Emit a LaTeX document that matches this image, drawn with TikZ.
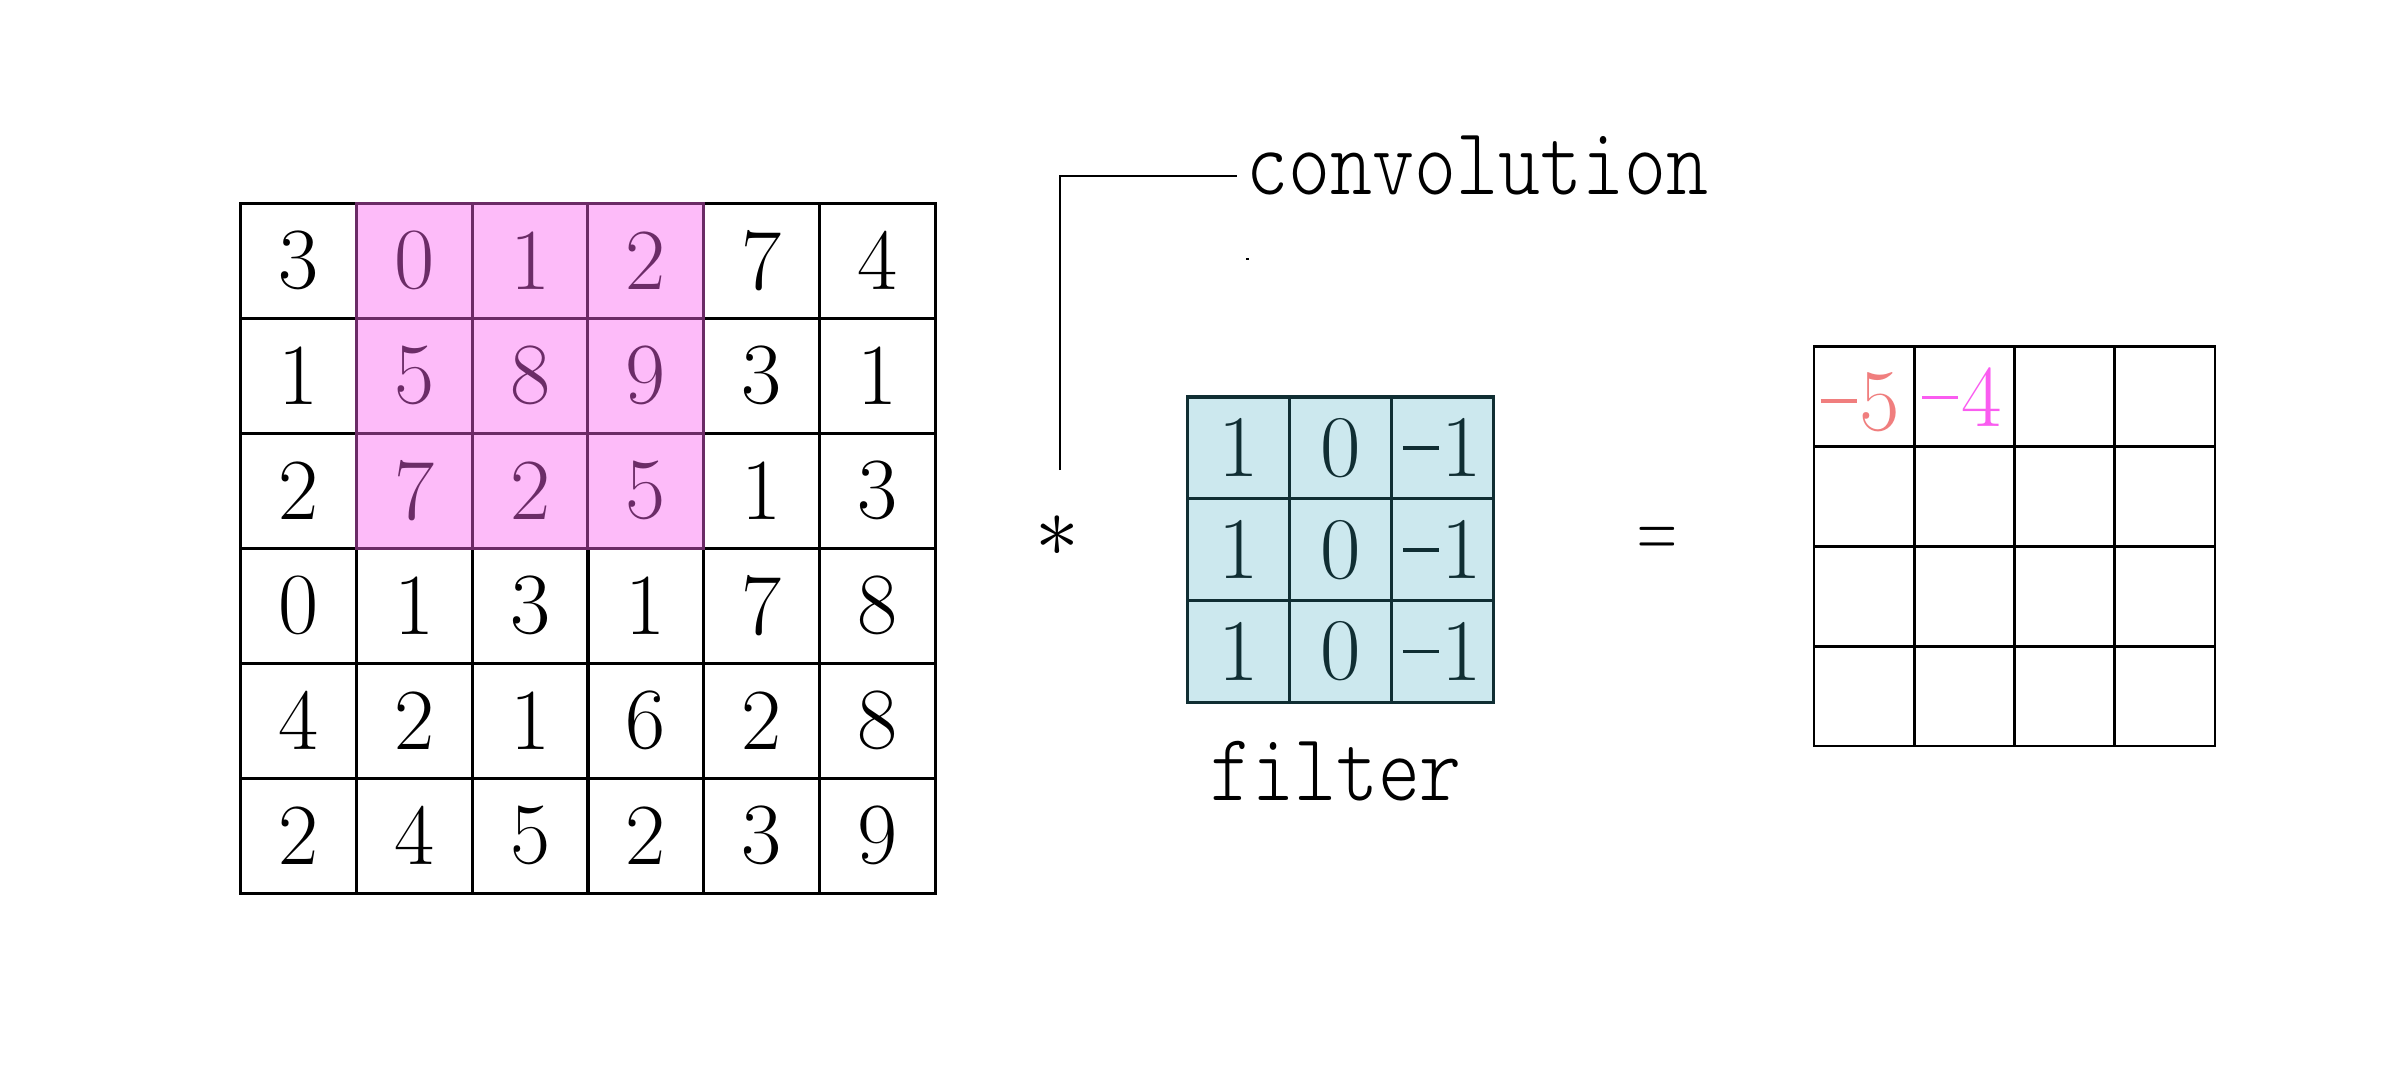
\documentclass[tikz,border=0pt]{standalone}
\usepackage{graphicx}
\usepackage{fontspec}
\newfontfamily\monolight{lmmonolt10-regular.otf}
\definecolor{pinkfill}{HTML}{FDBBF9}
\definecolor{purpleline}{HTML}{6B2B66}
\definecolor{purpletext}{HTML}{6B2C67}
\definecolor{filterfill}{HTML}{CCE8EE}
\definecolor{filterline}{HTML}{102E33}
\definecolor{salmon}{HTML}{F07E7E}
\definecolor{violetnum}{HTML}{FA5CF0}
\newcommand\mn{\rule[0.31em]{0.41em}{0.038em}\hspace{0.03em}}
\tikzset{
  numfont/.style={font=\fontsize{24.8}{28}\selectfont},
  incell/.style={draw=black, line width=0.85pt, minimum width=1.1567cm, minimum height=1.15cm, inner sep=0pt, numfont},
  hicell/.style={incell, fill=pinkfill, draw=purpleline, text=purpletext},
  fcell/.style={draw=filterline, fill=filterfill, line width=0.9pt, minimum width=1.019cm, minimum height=1.018cm, inner sep=0pt, font=\fontsize{25}{28}\selectfont, text=filterline},
  ocell/.style={draw=black, line width=0.77pt, minimum width=1.0025cm, minimum height=0.998cm, inner sep=0pt},
  monolabel/.style={inner sep=0pt, font=\monolight\fontsize{27.3}{30}\selectfont},
  resnum/.style={inner sep=0pt, anchor=base west, font=\fontsize{25}{28}\selectfont},
  connector/.style={line width=0.77pt}
}
\begin{document}
\begin{tikzpicture}[x=0.01cm,y=-0.01cm]
\useasboundingbox[fill=white] (0,0) rectangle (2401,1090);
% input grid: pass 1 plain cells
\foreach \row [count=\i from 0] in {{3,0,1,2,7,4},{1,5,8,9,3,1},{2,7,2,5,1,3},{0,1,3,1,7,8},{4,2,1,6,2,8},{2,4,5,2,3,9}}{
  \foreach \v [count=\j from 0] in \row {
    \pgfmathtruncatemacro\hl{(\i<3)&&(\j>0)&&(\j<4)}
    \ifnum\hl=0
      \node[incell] (in-\i-\j) at ({241+115.67*(\j+0.5)},{203.3+115*(\i+0.5)}) {\v};
    \fi
  }
}
% input grid: pass 2 highlighted cells
\foreach \row [count=\i from 0] in {{3,0,1,2,7,4},{1,5,8,9,3,1},{2,7,2,5,1,3}}{
  \foreach \v [count=\j from 0] in \row {
    \pgfmathtruncatemacro\hl{(\j>0)&&(\j<4)}
    \ifnum\hl=1
      \node[hicell] (in-\i-\j) at ({241+115.67*(\j+0.5)},{203.3+115*(\i+0.5)}) {\v};
    \fi
  }
}
% filter
\foreach \i in {0,1,2}{
  \foreach \v [count=\j from 0] in {1,0,\mn1}{
    \node[fcell] (f-\i-\j) at ({1187.7+101.9*(\j+0.5)},{397+101.8*(\i+0.5)}) {\v};
  }
}
\node[monolabel, anchor=base] (filterlabel) at (1336,800) {\scalebox{0.833}[1]{filter}};
% output grid
\foreach \i in {0,1,2,3}{
  \foreach \j in {0,1,2,3}{
    \node[ocell] (out-\i-\j) at ({1814+100.25*(\j+0.5)},{346.7+99.8*(\i+0.5)}) {};
  }
}
\node[resnum, text=salmon] (r0) at (1820,430) {\mn5};
\node[resnum, text=violetnum] (r1) at (1921.7,426.7) {\mn4};
% operators
\node[inner sep=0pt, font=\fontsize{26.7}{30}\selectfont] (ast) at (1057.7,536.3) {$\ast$};
\node[inner sep=0pt, font=\fontsize{24.5}{28}\selectfont] (eq) at (1657.5,543.3) {\scalebox{0.63}[1]{$=$}};
% convolution label and connector
\node[monolabel, anchor=base west] (conv) at (1246,194) {\scalebox{0.833}[1]{convolution}};
\coordinate (linestart) at (1060,470);
\coordinate (lineend) at (1237.3,176);
\draw[connector] (linestart) |- (lineend);
\draw[line width=0.5pt] (1246.2,259) -- (1249.2,259);
\end{tikzpicture}
\end{document}
